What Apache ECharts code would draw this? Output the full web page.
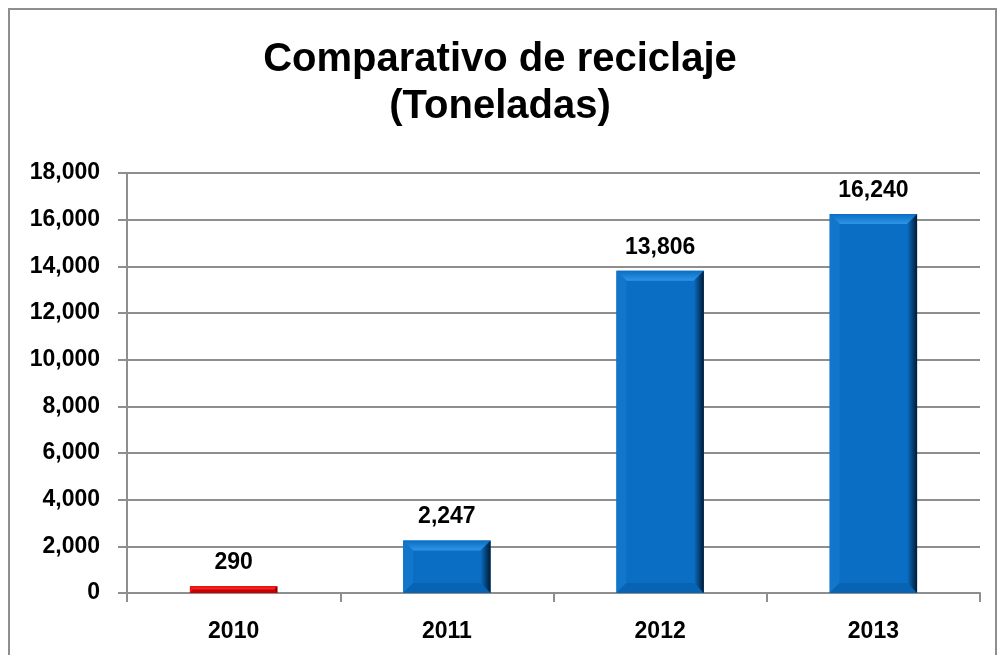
<!DOCTYPE html>
<html>
<head>
<meta charset="utf-8">
<script src="https://cdn.jsdelivr.net/npm/echarts@6/dist/echarts.min.js"></script>
<style>
  html, body { margin: 0; padding: 0; background: #fff; }
  #chart { width: 1000px; height: 655px; }
</style>
</head>
<body>
<div id="chart"></div>
<script>
const years = ['2010', '2011', '2012', '2013']
const tonnes = [290, 2247, 13806, 16240]
const barColors = ['red', 'blue', 'blue', 'blue']

const palette = {
  red: { body: '#E80000', top: '#FF3A3A', left: '#F01010', right: '#5A0000', bottom: '#C80000' },
  blue: { body: '#0A6FC4', top: '#2F95E6', left: '#1276CA', right: '#011A34', bottom: '#0863B2' },
}

const font = '"Liberation Sans", Arial, sans-serif'
const gray = '#8E8E8E'

const chart = echarts.init(document.getElementById('chart'))

function renderBevelBar(params, api) {
  const i = params.dataIndex
  const val = api.value(1)
  const base = api.coord([i, 0])
  const top = api.coord([i, val])
  const w = api.size([1, 0])[0] * 0.41
  const x0 = base[0] - w / 2
  const x1 = base[0] + w / 2
  const y0 = top[1]
  const y1 = base[1]
  const h = y1 - y0
  const b = Math.min(10, h / 2)
  const c = palette[barColors[i]]
  return {
    type: 'group',
    children: [
      { type: 'rect', shape: { x: x0, y: y0, width: w, height: h }, style: { fill: c.body } },
      {
        type: 'polygon',
        shape: { points: [[x0, y0], [x1, y0], [x1 - b, y0 + b], [x0 + b, y0 + b]] },
        style: {
          fill: new echarts.graphic.LinearGradient(0, 0, 0, 1, [
            { offset: 0, color: c.body },
            { offset: 1, color: c.top },
          ]),
        },
      },
      { type: 'polygon', shape: { points: [[x0, y0], [x0 + b, y0 + b], [x0 + b, y1 - b], [x0, y1]] }, style: { fill: c.left } },
      { type: 'polygon', shape: { points: [[x0, y1], [x0 + b, y1 - b], [x1 - b, y1 - b], [x1, y1]] }, style: { fill: c.bottom } },
      {
        type: 'polygon',
        shape: { points: [[x1, y0], [x1, y1], [x1 - b, y1 - b], [x1 - b, y0 + b]] },
        style: {
          fill: new echarts.graphic.LinearGradient(0, 0, 1, 0, [
            { offset: 0, color: c.body },
            { offset: 1, color: c.right },
          ]),
        },
      },
      {
        type: 'text',
        style: {
          x: base[0], y: y0 - 12,
          text: echarts.format.addCommas(val),
          align: 'center', verticalAlign: 'bottom',
          font: 'bold 23px ' + font, fill: '#000',
        },
      },
    ],
  }
}

const option = {
  backgroundColor: '#fff',
  animation: false,
  title: {
    text: 'Comparativo de reciclaje\n(Toneladas)',
    left: 'center',
    top: 31,
    textStyle: { fontFamily: font, fontSize: 40, fontWeight: 'bold', color: '#000', lineHeight: 47 },
  },
  graphic: [
    { type: 'rect', shape: { x: 9, y: 9, width: 987, height: 700 }, style: { fill: 'none', stroke: gray, lineWidth: 2 } },
  ],
  grid: { left: 127, right: 20, top: 173, bottom: 62 },
  xAxis: {
    type: 'category',
    data: years,
    axisLine: { lineStyle: { color: gray, width: 2 } },
    axisTick: { show: true, length: 9, lineStyle: { color: gray, width: 2 } },
    axisLabel: { margin: 27, fontFamily: font, fontSize: 23, fontWeight: 'bold', color: '#000' },
  },
  yAxis: {
    type: 'value',
    min: 0,
    max: 18000,
    interval: 2000,
    axisLine: { show: true, lineStyle: { color: gray, width: 2 } },
    axisTick: { show: true, length: 9, lineStyle: { color: gray, width: 2 } },
    splitLine: { lineStyle: { color: gray, width: 2 } },
    axisLabel: {
      margin: 27, fontFamily: font, fontSize: 23, fontWeight: 'bold', color: '#000',
      formatter: (v) => echarts.format.addCommas(v),
    },
  },
  series: [
    {
      type: 'custom',
      renderItem: renderBevelBar,
      data: tonnes.map((v, i) => [i, v]),
      encode: { x: 0, y: 1 },
    },
  ],
}

chart.setOption(option)
</script>
</body>
</html>
